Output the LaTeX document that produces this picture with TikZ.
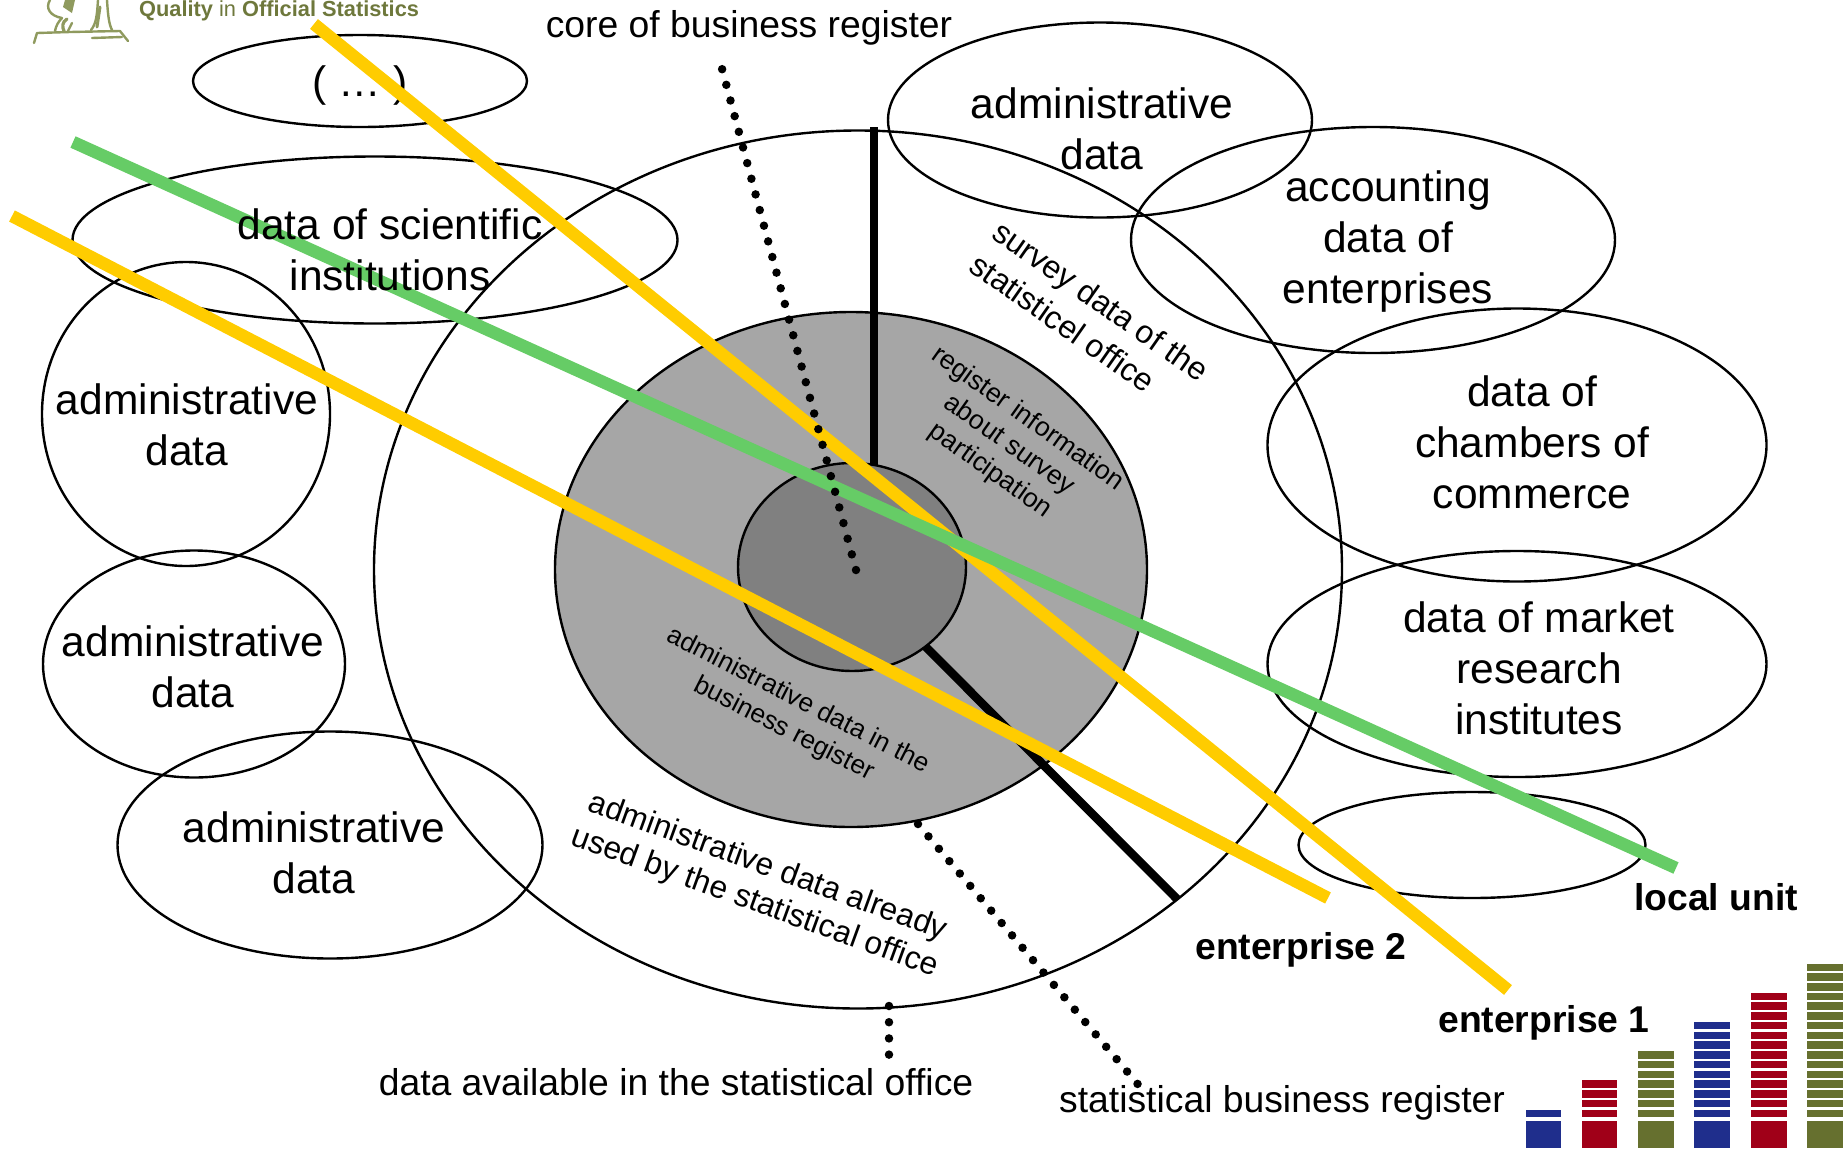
\documentclass[tikz,border=0pt]{standalone}
\usepackage{fontspec}
\usetikzlibrary{shapes.geometric}
\setmainfont{Liberation Sans}
\definecolor{ygold}{HTML}{FFCC00}
\definecolor{ggreen}{HTML}{66CC66}
\definecolor{midgrey}{HTML}{A6A6A6}
\definecolor{coregrey}{HTML}{808080}
\definecolor{barblue}{HTML}{1F2E8C}
\definecolor{barred}{HTML}{A00018}
\definecolor{barolive}{HTML}{66702F}
\definecolor{logoolive}{HTML}{8F9A5E}
\definecolor{logotextc}{HTML}{6E783C}
\newcommand{\bigtxt}{\fontsize{42.5}{51}\selectfont}
\newcommand{\midtxt}{\fontsize{37.3}{44}\selectfont}
\newcommand{\alreadytxt}{\fontsize{31.7}{37.5}\selectfont}
\newcommand{\surveytxt}{\fontsize{32}{40}\selectfont}
\newcommand{\regtxt}{\fontsize{26.7}{32}\selectfont}
\newcommand{\admbrtxt}{\fontsize{26.2}{32}\selectfont}
\newcommand{\barstack}[3]{%
  \fill[#1] (#2,1121.3) rectangle ++(35.3,27);
  \foreach \k in {1,...,#3}{\fill[#1] (#2,{1117-9.73*(\k-1)}) rectangle ++(35.3,-7.5);}%
}
\tikzset{
  x=1pt,y=-1pt,
  blob/.style={draw=black,line width=2.4pt,ellipse,inner sep=0pt,outer sep=0pt},
  lab/.style={align=center,inner sep=0pt,text=black},
  thickbar/.style={draw=black,line width=8.5pt},
  dots/.style={draw=black,line width=8.5pt,line cap=round,dash pattern=on 0pt off 16.2pt},
  ybar/.style={draw=ygold,line width=12.5pt},
  gbar/.style={draw=ggreen,line width=12.5pt},
  logostroke/.style={draw=logoolive,line width=2.4pt,line cap=round,line join=round}
}
\begin{document}
\begin{tikzpicture}
\useasboundingbox (0,0) rectangle (1845,1152);
% logo
\begin{scope}
\clip (0,0) rectangle (1845,1152);
\fill[logoolive] (65,0) -- (75,0) -- (72,13) -- (63,7) -- cycle;
\draw[logostroke] (50,0) .. controls (45,8) and (50,16) .. (62,18) .. controls (58,22) and (56,26) .. (55,31);
\draw[logostroke,line width=3.2pt] (67,19) .. controls (62,22) and (62,27) .. (64,31);
\draw[logostroke] (72,23) -- (68,31);
\draw[logostroke] (98,0) .. controls (97,16) and (96,24) .. (91,30);
\draw[logostroke] (107,0) .. controls (108,16) and (109,24) .. (112,30);
\draw[logostroke,line width=3pt] (100,7) -- (97,27);
\draw[logostroke] (34,43) -- (37,33) -- (70,32) -- (120,31) -- (128,41);
\draw[logostroke] (92,38) -- (122,37);
\end{scope}
\node[lab,anchor=base west,text=logotextc,font=\fontsize{21.8}{26}\selectfont] (logotext) at (139,16.5) {\textbf{Quality} in \textbf{Official Statistics}};
% ellipses
\node[blob,minimum width=968pt,minimum height=878pt] (big) at (858,569.5) {};
\node[blob,fill=midgrey,minimum width=592pt,minimum height=515pt] (mid) at (851,569.5) {};
\coordinate (vtop) at (874,127);
\coordinate (diagend) at (1177,899);
\draw[thickbar] (vtop) -- (874,480);
\draw[thickbar] (900,621) -- (diagend);
\node[blob,fill=coregrey,minimum width=228pt,minimum height=208pt] (core) at (852,567) {};
\node[blob,minimum width=334pt,minimum height=92pt] (paren) at (360,81) {};
\node[blob,minimum width=424pt,minimum height=195pt] (admintop) at (1100,120) {};
\node[blob,minimum width=484pt,minimum height=226pt] (acc) at (1373,240) {};
\node[blob,minimum width=499pt,minimum height=273pt] (chamb) at (1517,445) {};
\node[blob,minimum width=499pt,minimum height=226pt] (market) at (1517,664) {};
\node[blob,minimum width=347pt,minimum height=106pt] (local) at (1472,845) {};
\node[blob,minimum width=605pt,minimum height=167pt] (sci) at (375,240) {};
\node[blob,minimum width=288pt,minimum height=304pt] (leftA) at (186,414) {};
\node[blob,minimum width=302pt,minimum height=227pt] (leftB) at (194,664) {};
\node[blob,minimum width=425pt,minimum height=227pt] (leftC) at (330,845) {};
% labels
\node[lab,font=\bigtxt] (tparen) at (360,85) {( … )};
\node[lab,font=\bigtxt] (tadmintop) at (1102,129) {administrative\\data};
\node[lab,font=\bigtxt] (tacc) at (1388,241.5) {accounting\\data of\\enterprises};
\node[lab,font=\bigtxt] (tchamb) at (1532,442) {data of\\chambers of\\commerce};
\node[lab,font=\bigtxt] (tmarket) at (1539,668) {data of market\\research\\institutes};
\node[lab,font=\bigtxt] (tleftA) at (187,425) {administrative\\data};
\node[lab,font=\bigtxt] (tleftB) at (193,667) {administrative\\data};
\node[lab,font=\bigtxt] (tleftC) at (314,853) {administrative\\data};
\node[lab,font=\midtxt] (tcorereg) at (749,27.5) {core of business register};
\node[lab,font=\midtxt] (tavail) at (676,1082.5) {data available in the statistical office};
\node[lab,font=\midtxt] (tsbr) at (1282,1102.5) {statistical business register};
\node[lab,font=\surveytxt,rotate=-35] (tsurvey) at (1089.5,317) {survey data of the\\statisticel office\hspace*{37pt}};
\node[lab,font=\regtxt,rotate=-35.5] (treg) at (1009,445) {register information\\about survey\\participation};
\node[lab,font=\admbrtxt,rotate=-27] (tadmbr) at (791,715) {administrative data in the\\business register};
\node[lab,font=\alreadytxt,rotate=-20] (talready) at (761,885) {administrative data already\\used by the statistical office};
\node[lab,font=\midtxt\bfseries] (tlocal) at (1716,897) {local unit};
\node[lab,font=\midtxt\bfseries] (tent2) at (1301,950) {enterprise 2};
\node[lab,font=\midtxt\bfseries] (tent1) at (1544,1022.5) {enterprise 1};
% thick lines
\coordinate (yAa) at (314,24); \coordinate (yAb) at (1508,990);
\coordinate (yBa) at (12,216); \coordinate (yBb) at (1328,898);
\coordinate (gA) at (73,142); \coordinate (gB) at (1676,868);
\draw[ybar] (yAa) -- (yAb);
\draw[ybar] (yBa) -- (yBb);
\draw[gbar] (gA) -- (gB);
\node[lab,font=\bigtxt] (tsci) at (390,250) {data of scientific\\institutions};
% dotted leaders
\coordinate (dAa) at (856,570); \coordinate (dAb) at (721,65);
\coordinate (dBa) at (918,824); \coordinate (dBb) at (1141,1088);
\coordinate (dCa) at (889,1006); \coordinate (dCb) at (889,1062);
\draw[dots] (dAa) -- (dAb);
\draw[dots] (dBa) -- (dBb);
\draw[dots] (dCa) -- (dCb);
% bars
\barstack{barblue}{1525.6}{1}
\barstack{barred}{1582}{4}
\barstack{barolive}{1638.4}{7}
\barstack{barblue}{1694.4}{10}
\barstack{barred}{1751.3}{13}
\barstack{barolive}{1807.4}{16}
\end{tikzpicture}
\end{document}
